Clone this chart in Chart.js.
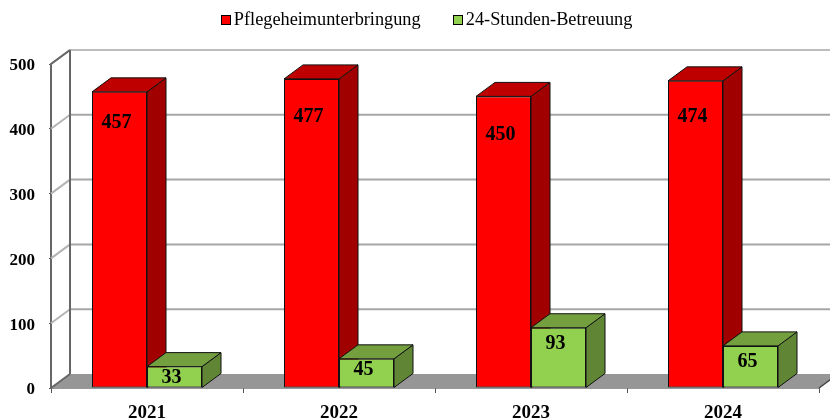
<!DOCTYPE html>
<html><head><meta charset="utf-8">
<style>html,body{margin:0;padding:0;background:#fff}canvas{display:block}</style>
<script src="https://cdn.jsdelivr.net/npm/chart.js@4"></script>
</head><body><canvas id="c" width="830" height="418"></canvas>
<script>
const categories = ['2021','2022','2023','2024'];
const seriesNames = ['Pflegeheimunterbringung','24-Stunden-Betreuung'];
const pflegeheim = [457,477,450,474];
const betreuung = [33,45,93,65];
const yTicks = [0,100,200,300,400,500];
const labelDropRed = [31,38,38,36];
const labelDropGreen = [11,11,16,16];

const DX = 19, DY = 14, SERIF = '"Liberation Serif","Times New Roman",serif';
const FACES = [{front:'#ff0000',top:'#bf0000',side:'#a00000'},{front:'#92d050',top:'#739f3e',side:'#5f8535'}];

function poly(ctx,pts,fill,stroke){
  ctx.beginPath();pts.forEach((p,i)=>i?ctx.lineTo(p[0],p[1]):ctx.moveTo(p[0],p[1]));ctx.closePath();
  if(fill){ctx.fillStyle=fill;ctx.fill();}
  if(stroke){ctx.strokeStyle=stroke;ctx.lineWidth=1;ctx.stroke();}
}
const threeD = {
  id:'threeD',
  beforeLayout(chart){
    const l=chart.legend;
    if(!l._wrapped){const f=l.fit;l.fit=function(){f.call(this);this.height=64;this.minSize&&(this.minSize.height=64);};l._wrapped=true;}
  },
  afterLayout(chart){
    const l=chart.legend;l.top=-21;l.bottom=43;l.left+=17;l.right+=17;
  },
  beforeDatasetsDraw(chart){
    const ctx=chart.ctx,a=chart.chartArea,y=chart.scales.y;
    ctx.save();
    const L=a.left,R=a.right,B=a.bottom;
    poly(ctx,[[L,B],[L+DX,B-DY],[R+DX,B-DY],[R,B]],'#969696');
    ctx.lineWidth=2;
    yTicks.forEach(v=>{
      if(v===0)return;
      const py=y.getPixelForValue(v);
      ctx.strokeStyle=v===500?'#bdbdbd':'#a6a6a6';
      ctx.beginPath();ctx.moveTo(L+DX,py-DY);ctx.lineTo(chart.width,py-DY);ctx.stroke();
      ctx.strokeStyle='#b4b4b4';ctx.beginPath();ctx.moveTo(L,py);ctx.lineTo(L+DX,py-DY);ctx.stroke();
    });
    ctx.strokeStyle='#666';
    ctx.beginPath();ctx.moveTo(L+DX,a.top-DY);ctx.lineTo(L+DX,B-DY);ctx.stroke();
    ctx.beginPath();ctx.moveTo(L,a.top);ctx.lineTo(L+DX,a.top-DY);ctx.stroke();
    ctx.beginPath();ctx.moveTo(L,B);ctx.lineTo(L+DX,B-DY);ctx.stroke();
    ctx.lineWidth=1.5;ctx.strokeStyle='#444';
    ctx.beginPath();ctx.moveTo(R,B);ctx.lineTo(R+DX,B-DY);ctx.stroke();
    chart.data.datasets.forEach((ds,i)=>{
      chart.getDatasetMeta(i).data.forEach(b=>{
        const w=b.width/2,x0=b.x-w,x1=b.x+w,t=b.y,bot=b.base,f=FACES[i];
        poly(ctx,[[x1,t],[x1+DX,t-DY],[x1+DX,bot-DY],[x1,bot]],f.side,'#111');
        poly(ctx,[[x0,t],[x0+DX,t-DY],[x1+DX,t-DY],[x1,t]],f.top,'#111');
      });
    });
    ctx.restore();
  },
  afterDatasetsDraw(chart){
    const ctx=chart.ctx;
    ctx.save();ctx.fillStyle='#000';ctx.font='bold 20px '+SERIF;ctx.textAlign='center';ctx.textBaseline='middle';
    const drops=[labelDropRed,labelDropGreen];
    chart.data.datasets.forEach((ds,i)=>{
      chart.getDatasetMeta(i).data.forEach((b,j)=>{
        ctx.fillText(String(ds.data[j]),b.x-3,b.y+drops[i][j]);
      });
    });
    ctx.restore();
  },
  afterDraw(chart){
    const ctx=chart.ctx,l=chart.legend;
    ctx.save();
    l.legendHitBoxes.forEach((h,i)=>{
      ctx.fillStyle=FACES[i].front;ctx.strokeStyle='#000';ctx.lineWidth=1;
      const x=Math.round(h.left)+.5;
      ctx.fillRect(x,15.5,9,9);ctx.strokeRect(x,15.5,9,9);
    });
    ctx.restore();
  }
};
new Chart(document.getElementById('c'),{
  type:'bar',
  data:{labels:categories,datasets:[
    {label:seriesNames[0],data:pflegeheim,backgroundColor:FACES[0].front,borderColor:'#111',borderWidth:1,borderSkipped:false,categoryPercentage:110/192,barPercentage:1},
    {label:seriesNames[1],data:betreuung,backgroundColor:FACES[1].front,borderColor:'#111',borderWidth:1,borderSkipped:false,categoryPercentage:110/192,barPercentage:1}
  ]},
  options:{
    responsive:false,animation:false,
    layout:{padding:{right:11,left:0,top:0,bottom:0}},
    plugins:{
      tooltip:{enabled:false},
      legend:{display:true,position:'top',labels:{
        boxWidth:4,boxHeight:9,padding:32,color:'#000',font:{family:SERIF,size:18.3},
        generateLabels(chart){return chart.data.datasets.map((d,i)=>({text:d.label,fillStyle:'rgba(0,0,0,0)',strokeStyle:'rgba(0,0,0,0)',lineWidth:0,datasetIndex:i,fontColor:'#000'}));}
      }}
    },
    scales:{
      x:{
        afterFit(s){s.height=30;},
        grid:{offset:true,drawOnChartArea:false,drawTicks:true,tickLength:5,color:'#555',lineWidth:1},
        border:{color:'#333',width:1.5},
        ticks:{autoSkip:false,maxRotation:0,padding:9,color:'#000',font:{family:SERIF,size:19,weight:'bold'}}
      },
      y:{
        min:0,max:500,
        afterFit(s){s.width=51;},
        afterBuildTicks(s){s.ticks=yTicks.map(v=>({value:v}));},
        grid:{drawOnChartArea:false,drawTicks:true,tickLength:2,color:'#555',lineWidth:1},
        border:{color:'#666',width:2},
        ticks:{padding:14,labelOffset:2,color:'#000',font:{family:SERIF,size:17,weight:'bold'}}
      }
    }
  },
  plugins:[threeD]
});
</script></body></html>
